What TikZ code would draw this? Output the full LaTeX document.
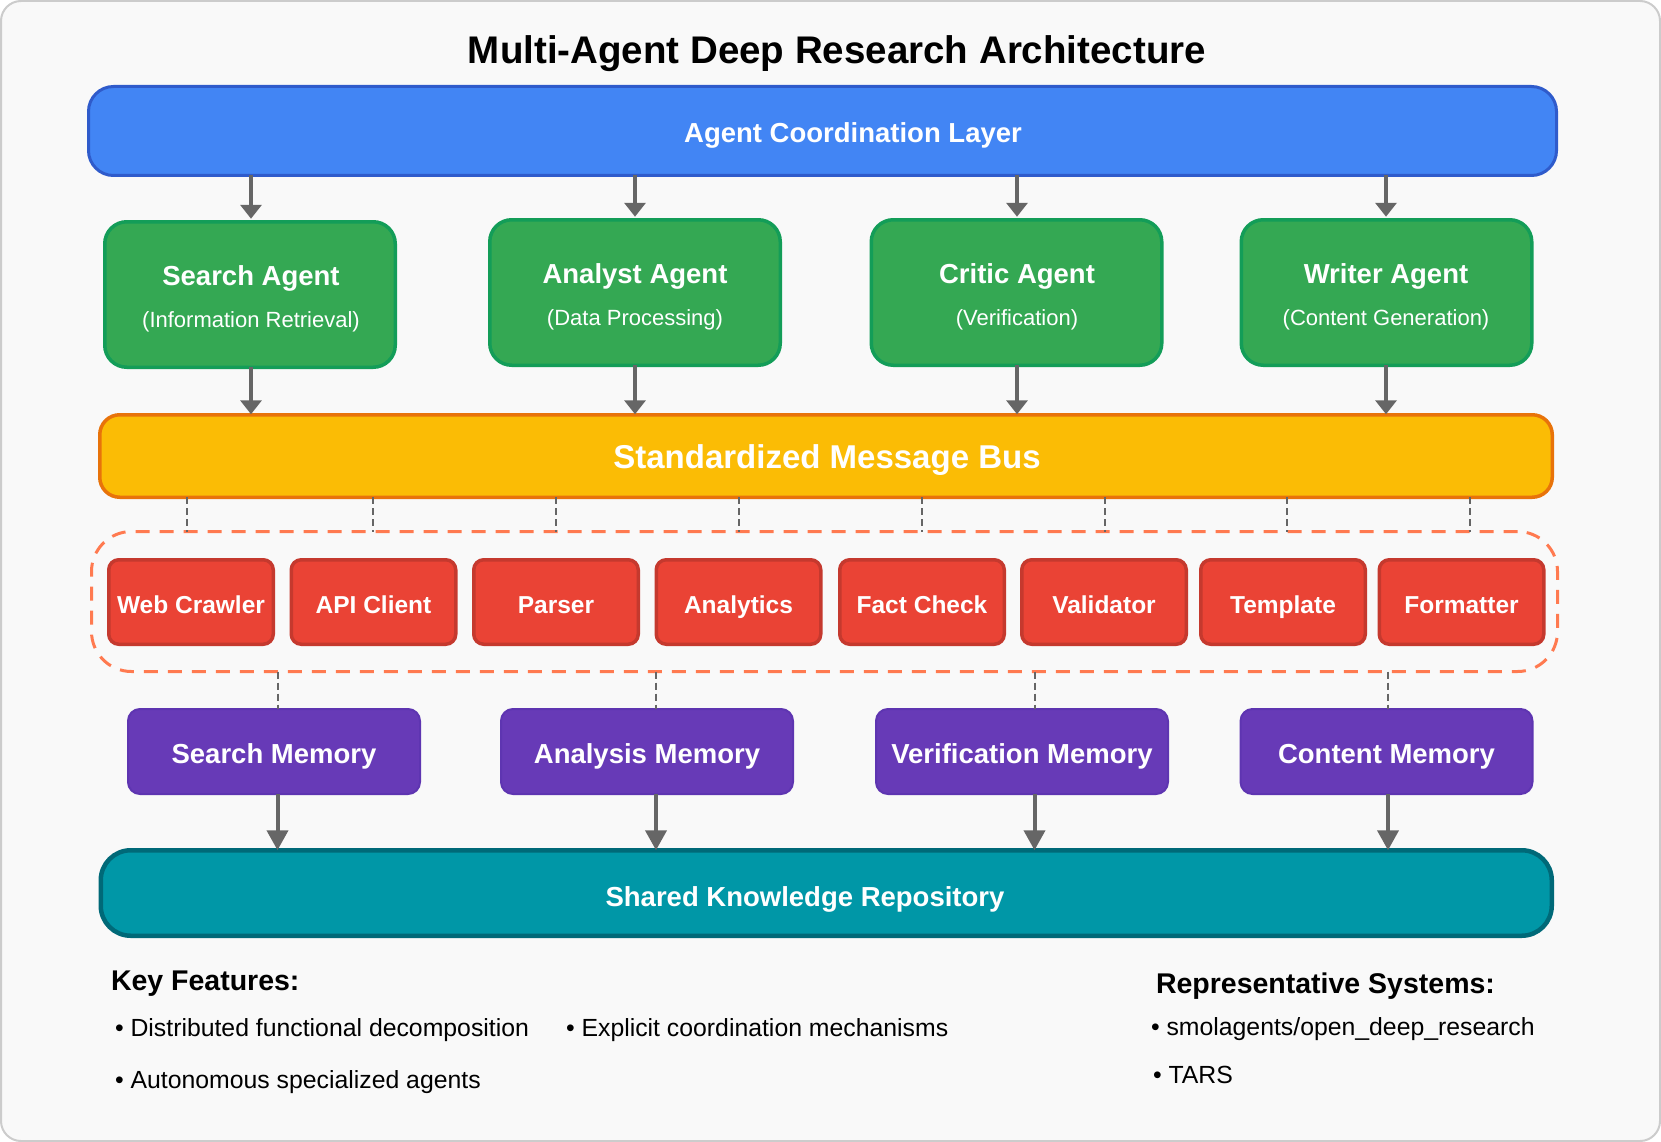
\documentclass[tikz,border=0pt]{standalone}
\usepackage{fontspec}
\setmainfont{Liberation Sans}
\usetikzlibrary{arrows.meta}
\definecolor{bgc}{HTML}{F9F9F9}
\definecolor{bgline}{HTML}{CCCCCC}
\definecolor{bluefill}{HTML}{4285F4}
\definecolor{blueline}{HTML}{2F5BCB}
\definecolor{greenfill}{HTML}{34A853}
\definecolor{greenline}{HTML}{139D58}
\definecolor{yellowfill}{HTML}{FBBC05}
\definecolor{yellowline}{HTML}{E8730A}
\definecolor{redfill}{HTML}{EA4335}
\definecolor{redline}{HTML}{C5392E}
\definecolor{purplefill}{HTML}{673AB7}
\definecolor{purpleline}{HTML}{5E35B1}
\definecolor{tealfill}{HTML}{0097A7}
\definecolor{tealline}{HTML}{006978}
\definecolor{dashorange}{HTML}{FF7A50}
\definecolor{arrowgray}{HTML}{666666}
\tikzset{
  box/.style={rectangle, inner sep=0pt, outer sep=0pt},
  bluebox/.style={box, fill=bluefill, draw=blueline, line width=3pt, rounded corners=25pt, minimum width=1468pt, minimum height=89pt},
  greenbox/.style={box, fill=greenfill, draw=greenline, line width=3.5pt, rounded corners=22pt, minimum width=290.5pt, minimum height=145.5pt},
  yellowbox/.style={box, fill=yellowfill, draw=yellowline, line width=3.5pt, rounded corners=20pt, minimum width=1452.5pt, minimum height=82.5pt},
  groupbox/.style={box, draw=dashorange, line width=3pt, dash pattern=on 14pt off 10pt, rounded corners=40pt, minimum width=1466pt, minimum height=140pt},
  redbox/.style={box, fill=redfill, draw=redline, line width=3.5pt, rounded corners=10pt, minimum width=164.5pt, minimum height=84.5pt},
  purplebox/.style={box, fill=purplefill, draw=purpleline, line width=2pt, rounded corners=12pt, minimum width=292pt, minimum height=85pt},
  tealbox/.style={box, fill=tealfill, draw=tealline, line width=4.5pt, rounded corners=30pt, minimum width=1451pt, minimum height=85.5pt},
  txt/.style={inner sep=0pt, outer sep=0pt, anchor=base},
  wlabel/.style={txt, text=white, font=\bfseries\fontsize{27.5pt}{33pt}\selectfont},
  wsub/.style={txt, text=white, font=\fontsize{22pt}{26pt}\selectfont},
  redlabel/.style={txt, text=white, font=\bfseries\fontsize{24.5pt}{29pt}\selectfont},
  buslabel/.style={txt, text=white, font=\bfseries\fontsize{33pt}{40pt}\selectfont},
  titlelabel/.style={txt, text=black, font=\bfseries\fontsize{38.5pt}{46pt}\selectfont},
  headlabel/.style={txt, anchor=base west, text=black, font=\bfseries\fontsize{28.5pt}{34pt}\selectfont},
  itemlabel/.style={txt, anchor=base west, text=black, font=\fontsize{24.8pt}{30pt}\selectfont},
  arr/.style={draw=arrowgray, line width=3.5pt, -{Triangle[width=21pt,length=14pt]}},
  arrbig/.style={draw=arrowgray, line width=4pt, -{Triangle[width=21pt,length=20pt]}},
  dline/.style={draw=arrowgray, line width=2pt, dash pattern=on 7pt off 4pt},
}
\begin{document}
\begin{tikzpicture}[x=1pt,y=-1pt]
\useasboundingbox (0,0) rectangle (1661,1142);
\draw[fill=bgc, draw=bgline, line width=2pt, rounded corners=20pt] (1,1) rectangle (1660,1141);

% title
\node[titlelabel] (title) at (837,64) {Multi-Agent Deep Research Architecture};

% coordination layer
\node[bluebox] (coord) at (822.5,131) {};
\node[wlabel] (coordt) at (853,143) {Agent Coordination Layer};

% agents
\node[greenbox] (sa) at (250,294.5) {};
\node[greenbox] (aa) at (635,292.5) {};
\node[greenbox] (ca) at (1016.5,292.5) {};
\node[greenbox] (wa) at (1386.5,292.5) {};
\node[wlabel] (sat) at (251,285) {Search Agent};
\node[wsub] (sas) at (251,327) {(Information Retrieval)};
\node[wlabel] (aat) at (635,283) {Analyst Agent};
\node[wsub] (aas) at (635,325) {(Data Processing)};
\node[wlabel] (cat) at (1017,283) {Critic Agent};
\node[wsub] (cas) at (1017,325) {(Verification)};
\node[wlabel] (wat) at (1386,283) {Writer Agent};
\node[wsub] (was) at (1386,325) {(Content Generation)};

% bus
\node[yellowbox] (bus) at (826,456) {};
\node[buslabel] (bust) at (827,468) {Standardized Message Bus};

% tool group
\node[groupbox] (grp) at (824.5,601.5) {};
\foreach \x/\name/\lab in {191/t1/Web Crawler,373.5/t2/API Client,556/t3/Parser,738.5/t4/Analytics,922/t5/Fact Check,1104/t6/Validator,1283/t7/Template,1461.5/t8/Formatter}{
  \node[redbox] (\name) at (\x,602) {};
  \node[redlabel] (\name l) at (\x,613) {\lab};
}

% memories
\node[purplebox] (m1) at (274,751.5) {};
\node[purplebox] (m2) at (647,751.5) {};
\node[purplebox] (m3) at (1022,751.5) {};
\node[purplebox] (m4) at (1386.5,751.5) {};
\node[wlabel] (m1l) at (274,763) {Search Memory};
\node[wlabel] (m2l) at (647,763) {Analysis Memory};
\node[wlabel] (m3l) at (1022,763) {Verification Memory};
\node[wlabel] (m4l) at (1386.5,763) {Content Memory};

% repository
\node[tealbox] (repo) at (826.25,893) {};
\node[wlabel] (repot) at (805,906) {Shared Knowledge Repository};

% arrows coordination -> agents
\foreach \a/\x in {sa/251,aa/635,ca/1017,wa/1386}{
  \coordinate (c\a) at (\x,0);
  \draw[arr, shorten >=3pt] (coord.south -| c\a) -- (\a.north -| c\a);
  \draw[arr, shorten >=0.5pt] (\a.south -| c\a) -- (bus.north -| c\a);
}

% bus -> tool group dashed
\foreach \k/\x in {0/187,1/373,2/556,3/739,4/922,5/1105,6/1287,7/1470}{
  \coordinate (d\k) at (\x,0);
  \draw[dline] (bus.south -| d\k) -- (grp.north -| d\k);
}

% tool group -> memories, memories -> repo
\foreach \m/\x in {m1/277.5,m2/656,m3/1034.5,m4/1388}{
  \coordinate (e\m) at (\x,0);
  \draw[dline] (grp.south -| e\m) -- (\m.north -| e\m);
  \draw[arrbig] (\m.south -| e\m) -- (repo.north -| e\m);
}

% bottom text
\node[headlabel] (kf) at (111,990) {Key Features:};
\node[itemlabel] (kf1) at (115,1036) {• Distributed functional decomposition};
\node[itemlabel] (kf2) at (566,1036) {• Explicit coordination mechanisms};
\node[itemlabel] (kf3) at (115,1088) {• Autonomous specialized agents};
\node[headlabel] (rs) at (1156,993) {Representative Systems:};
\node[itemlabel] (rs1) at (1151,1035) {• smolagents/open\_deep\_research};
\node[itemlabel] (rs2) at (1153,1083) {• TARS};
\end{tikzpicture}
\end{document}
